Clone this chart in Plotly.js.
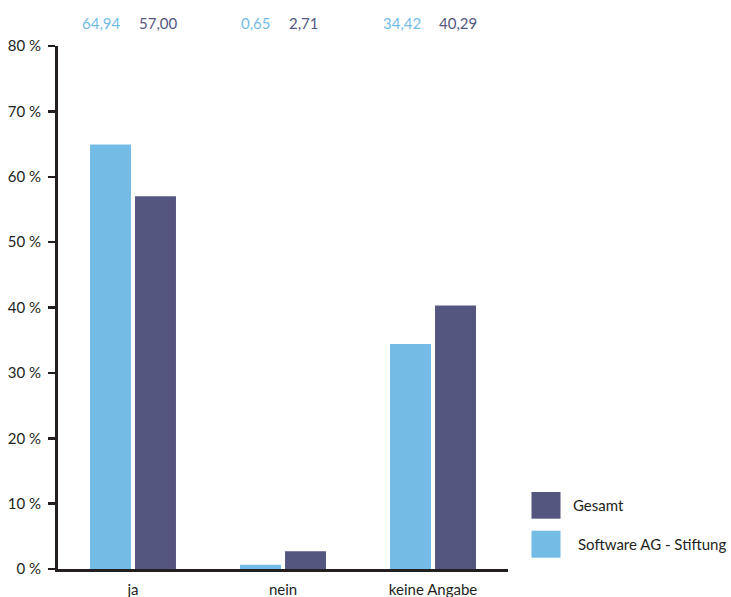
<!DOCTYPE html>
<html>
<head>
<meta charset="utf-8">
<script src="https://cdn.plot.ly/plotly-3.0.1.min.js"></script>
<style>
  html, body { margin: 0; padding: 0; background: #ffffff; }
  #chart { width: 731px; height: 597px; }
</style>
</head>
<body>
<div id="chart"></div>
<script>
const categories = ['ja', 'nein', 'keine Angabe'];
const stiftungValues = [64.94, 0.65, 34.42];
const gesamtValues = [57.00, 2.71, 40.29];
const seriesNames = ['Software AG - Stiftung', 'Gesamt'];
const seriesColors = ['#74bbe6', '#55567f'];
const yTickVals = [0, 10, 20, 30, 40, 50, 60, 70, 80];
const yTickText = ['0 %', '10 %', '20 %', '30 %', '40 %', '50 %', '60 %', '70 %', '80 %'];

const FONT = 'Lato, "Open Sans", sans-serif';
const AXIS_COLOR = '#231f20';

function fmt(v) { return v.toFixed(2).replace('.', ','); }

const traces = [
  { type: 'bar', name: seriesNames[0], x: categories, y: stiftungValues,
    marker: { color: seriesColors[0] }, hoverinfo: 'skip' },
  { type: 'bar', name: seriesNames[1], x: categories, y: gesamtValues,
    marker: { color: seriesColors[1] }, hoverinfo: 'skip' }
];

const annotations = [];
categories.forEach((c, i) => {
  annotations.push({ xref: 'x', yref: 'paper', x: c, y: 1.044, xanchor: 'right', yanchor: 'middle',
    xshift: -10, text: fmt(stiftungValues[i]), showarrow: false,
    font: { family: FONT, size: 15, color: seriesColors[0] } });
  annotations.push({ xref: 'x', yref: 'paper', x: c, y: 1.044, xanchor: 'left', yanchor: 'middle',
    xshift: 4, text: fmt(gesamtValues[i]), showarrow: false,
    font: { family: FONT, size: 15, color: seriesColors[1] } });
});

// custom legend (Gesamt on top, Stiftung below)
const legendOrder = [1, 0];
const legendBoxes = [[0.0962, 0.1472], [0.0216, 0.0732]];
const legendTextX = [1.1404, 1.150];
const shapes = [];
legendOrder.forEach((s, k) => {
  shapes.push({ type: 'rect', xref: 'paper', yref: 'paper', x0: 1.0522, x1: 1.1167,
    y0: legendBoxes[k][0], y1: legendBoxes[k][1], fillcolor: seriesColors[s], line: { width: 0 } });
  annotations.push({ xref: 'paper', yref: 'paper', x: legendTextX[k],
    y: (legendBoxes[k][0] + legendBoxes[k][1]) / 2, xanchor: 'left', yanchor: 'middle',
    text: seriesNames[s], showarrow: false, font: { family: FONT, size: 15, color: AXIS_COLOR } });
});

const layout = {
  width: 731, height: 597,
  margin: { l: 58, r: 223, t: 46, b: 28, pad: 0 },
  paper_bgcolor: '#ffffff', plot_bgcolor: '#ffffff',
  font: { family: FONT, size: 15, color: AXIS_COLOR },
  showlegend: false,
  barmode: 'group', bargap: 0.4, bargroupgap: 0.09,
  xaxis: {
    type: 'category', range: [-0.5, 2.5],
    showline: true, linecolor: AXIS_COLOR, linewidth: 3,
    ticks: '', showgrid: false, zeroline: false,
    ticklabelstandoff: 5,
    tickfont: { family: FONT, size: 15, color: AXIS_COLOR }
  },
  yaxis: {
    range: [0, 80], tickmode: 'array', tickvals: yTickVals, ticktext: yTickText,
    showline: true, linecolor: AXIS_COLOR, linewidth: 3,
    ticks: 'outside', ticklen: 7, tickwidth: 2.5, tickcolor: AXIS_COLOR,
    ticklabelstandoff: 4,
    showgrid: false, zeroline: false,
    tickfont: { family: FONT, size: 15, color: AXIS_COLOR }
  },
  shapes: shapes,
  annotations: annotations,
  hovermode: false
};

Plotly.newPlot('chart', traces, layout, { displayModeBar: false, staticPlot: true });
</script>
</body>
</html>
